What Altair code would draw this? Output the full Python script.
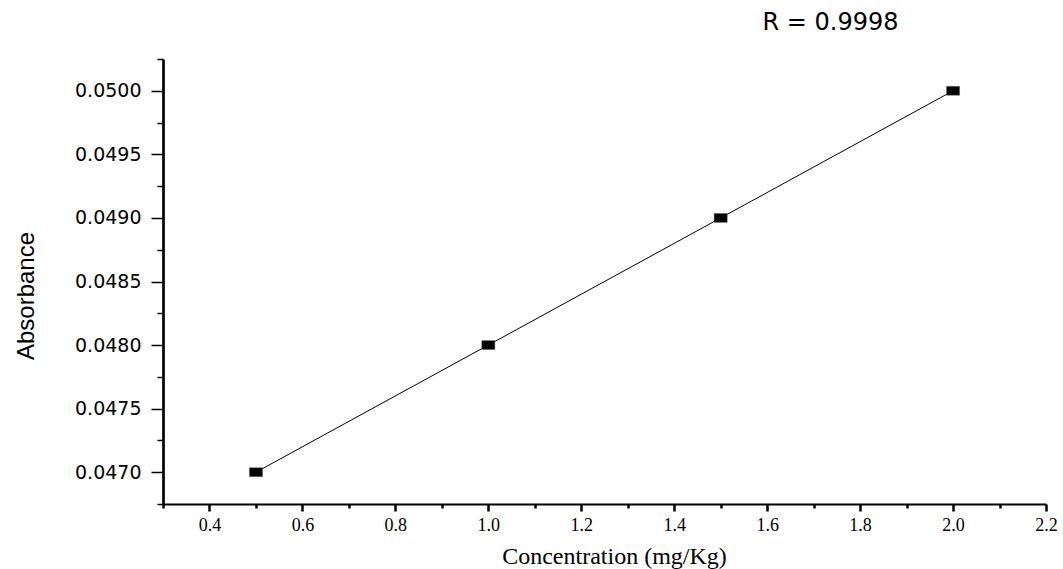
import altair as alt
import pandas as pd

# data
concentration = [0.5, 1.0, 1.5, 2.0]
absorbance = [0.0470, 0.0480, 0.0490, 0.0500]

x_ticks = [0.3, 0.4, 0.5, 0.6, 0.7, 0.8, 0.9, 1.0, 1.1, 1.2, 1.3, 1.4, 1.5,
           1.6, 1.7, 1.8, 1.9, 2.0, 2.1, 2.2]
y_ticks = [0.04675, 0.0470, 0.04725, 0.0475, 0.04775, 0.0480, 0.04825, 0.0485,
           0.04875, 0.0490, 0.04925, 0.0495, 0.04975, 0.0500, 0.05025]
x_domain = [0.3, 2.2]
y_domain = [0.04675, 0.05025]
r_label = "R = 0.9998"

df = pd.DataFrame({"c": concentration, "a": absorbance})

x_major = "abs(datum.value*5 - round(datum.value*5)) < 1e-6"
y_major = "abs(datum.value*2000 - round(datum.value*2000)) < 1e-6"

x_axis = alt.Axis(
    values=x_ticks,
    labelExpr=f"({x_major}) ? format(datum.value, '.1f') : ''",
    tickSize={"condition": {"test": x_major, "value": 7}, "value": 4},
    tickWidth=2.5, tickColor="black",
    domainColor="black", domainWidth=1.8,
    grid=False, labelOverlap=False,
    labelFont="Liberation Serif", labelFontSize=18, labelColor="black",
    labelPadding=5, labelFlush=False,
    title="Concentration (mg/Kg)", titleFont="Liberation Serif",
    titleFontSize=24, titleFontWeight="normal", titleColor="black",
    titleX=451, titleY=59, titleAlign="center", titleBaseline="alphabetic",
)

y_axis = alt.Axis(
    values=y_ticks,
    labelExpr=f"({y_major}) ? format(datum.value, '.4f') : ''",
    tickSize={"condition": {"test": y_major, "value": 12}, "value": 6},
    tickWidth=1.5, tickColor="black",
    domainColor="black", domainWidth=2.7,
    grid=False, labelOverlap=False,
    labelFont="DejaVu Sans", labelFontSize=19, labelColor="black",
    labelPadding=10, labelFlush=False,
    title="Absorbance", titleFont="Liberation Sans Narrow, Liberation Sans, sans-serif",
    titleFontSize=24, titleFontWeight="normal", titleColor="black",
    titleAngle=270, titleX=-130, titleY=236.5, titleAlign="center",
    titleBaseline="alphabetic",
)

x_enc = alt.X("c:Q", scale=alt.Scale(domain=x_domain, nice=False, zero=False), axis=x_axis)
y_enc = alt.Y("a:Q", scale=alt.Scale(domain=y_domain, nice=False, zero=False), axis=y_axis)

line = alt.Chart(df).mark_line(color="black", strokeWidth=1).encode(x=x_enc, y=y_enc)
points = alt.Chart(df).mark_point(
    shape="M-1,-0.68L1,-0.68L1,0.68L-1,0.68Z", size=169, filled=True,
    color="black", opacity=1, stroke="#555555", strokeWidth=0.5,
).encode(x=x_enc, y=y_enc)

chart = alt.layer(line, points).properties(
    width=883, height=445,
    autosize=alt.AutoSizeParams(type="none"),
    padding={"left": 163, "top": 59, "right": 17, "bottom": 65},
    background="white",
    title=alt.TitleParams(
        text=r_label, anchor="middle", frame="group", dx=226, offset=27, dy=31,
        baseline="alphabetic", font="DejaVu Sans", fontSize=24,
        fontWeight="normal", color="black",
    ),
).configure_view(stroke=None)

chart.save("out.html", embed_options={"renderer": "svg", "actions": False})
